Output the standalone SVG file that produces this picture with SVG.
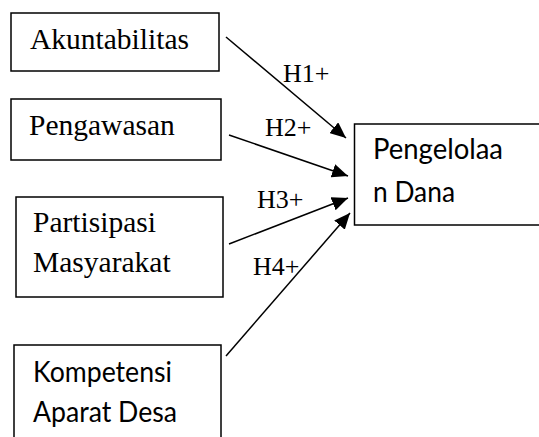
<svg xmlns="http://www.w3.org/2000/svg" width="539" height="437" viewBox="0 0 539 437">
<style>
.box{fill:#fff;stroke:#000;stroke-width:1.5}
.serif{font-family:'Liberation Serif','DejaVu Serif',serif;font-size:29.5px;fill:#000}
.sans{font-family:Lato,'Liberation Sans',sans-serif;font-size:29px;fill:#000}
.lbl{font-family:'Liberation Serif','DejaVu Serif',serif;font-size:26px;fill:#000}
.edge{stroke:#000;stroke-width:1.5;fill:none;marker-end:url(#arr)}
</style>
<defs>
<marker id="arr" markerUnits="userSpaceOnUse" markerWidth="17" markerHeight="14" refX="16" refY="7" orient="auto">
<path d="M0,0 L16,7 L0,14 z" fill="#000"/>
</marker>
</defs>
<rect width="539" height="437" fill="#fff"/>
<g id="akuntabilitas">
<rect class="box" x="11" y="13" width="208" height="58"/>
<text class="serif" x="30" y="49">Akuntabilitas</text>
</g>
<g id="pengawasan">
<rect class="box" x="11" y="99" width="210" height="61"/>
<text class="serif" x="29" y="135">Pengawasan</text>
</g>
<g id="partisipasi">
<rect class="box" x="16" y="197" width="207" height="100"/>
<text class="serif" x="33" y="232">Partisipasi</text>
<text class="serif" x="33" y="272">Masyarakat</text>
</g>
<g id="kompetensi">
<rect class="box" x="14" y="345" width="207" height="100"/>
<text class="sans" x="33" y="382" textLength="139" lengthAdjust="spacingAndGlyphs">Kompetensi</text>
<text class="sans" x="33" y="422" textLength="144" lengthAdjust="spacingAndGlyphs">Aparat Desa</text>
</g>
<g id="pengelolaan">
<rect class="box" x="354.5" y="124" width="200" height="101"/>
<text class="sans" x="373" y="159" textLength="130" lengthAdjust="spacingAndGlyphs">Pengelolaa</text>
<text class="sans" x="373" y="202" textLength="82" lengthAdjust="spacingAndGlyphs">n Dana</text>
</g>
<g id="connectors">
<line class="edge" x1="226" y1="37" x2="346" y2="138"/>
<line class="edge" x1="229" y1="135" x2="348" y2="176"/>
<line class="edge" x1="229" y1="244" x2="348" y2="198"/>
<line class="edge" x1="226" y1="356" x2="350" y2="213"/>
<text class="lbl" x="283" y="82">H1+</text>
<text class="lbl" x="265" y="136">H2+</text>
<text class="lbl" x="257" y="208">H3+</text>
<text class="lbl" x="253" y="275">H4+</text>
</g>
</svg>
